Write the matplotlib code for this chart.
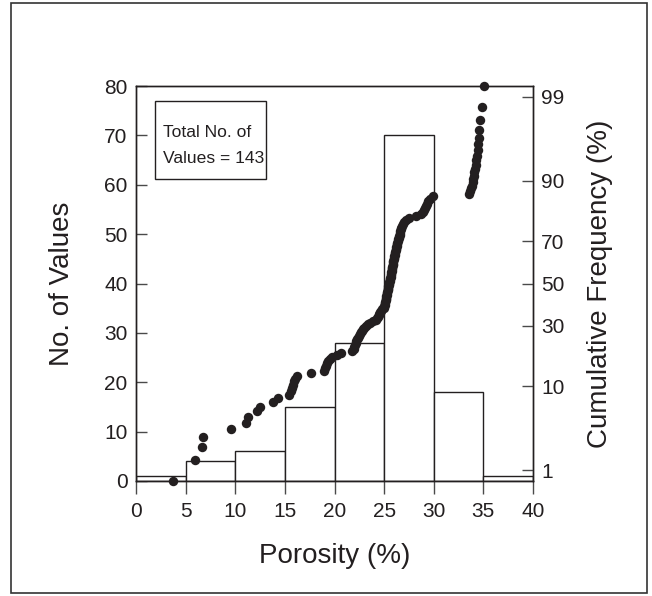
import numpy as np
import matplotlib
matplotlib.use("Agg")
import matplotlib.pyplot as plt
from matplotlib.patches import Rectangle
from statistics import NormalDist

plt.rcParams["font.family"] = ["Liberation Sans", "DejaVu Sans"]

# Histogram of porosity classes (%)
bin_edges = [0, 5, 10, 15, 20, 25, 30, 35, 40]
bin_counts = [1, 4, 6, 15, 28, 70, 18, 1]

# Individual porosity measurements, sorted ascending (%)
porosity_sorted = [
    3.7, 5.9, 6.7, 6.8, 9.6, 11.1, 11.3, 12.2, 12.5, 13.8,
    14.3, 15.4, 15.6, 15.7, 15.8, 15.9, 16.0, 16.2, 17.6, 18.9,
    19.0, 19.1, 19.2, 19.3, 19.5, 19.7, 20.3, 20.7, 21.8, 22.0,
    22.0, 22.1, 22.2, 22.2, 22.3, 22.4, 22.5, 22.6, 22.7, 22.8,
    22.9, 23.0, 23.2, 23.4, 23.6, 23.9, 24.2, 24.3, 24.4, 24.5,
    24.5, 24.6, 24.7, 24.8, 25.0, 25.0, 25.1, 25.1, 25.1, 25.2,
    25.2, 25.2, 25.2, 25.3, 25.3, 25.3, 25.4, 25.4, 25.4, 25.4,
    25.5, 25.5, 25.5, 25.6, 25.6, 25.6, 25.7, 25.7, 25.7, 25.7,
    25.8, 25.8, 25.8, 25.8, 25.9, 25.9, 25.9, 25.9, 26.0, 26.0,
    26.0, 26.1, 26.1, 26.1, 26.2, 26.2, 26.2, 26.3, 26.3, 26.3,
    26.4, 26.4, 26.5, 26.5, 26.6, 26.6, 26.6, 26.7, 26.7, 26.8,
    26.9, 27.0, 27.2, 27.5, 28.2, 28.7, 28.9, 29.0, 29.1, 29.2,
    29.3, 29.4, 29.6, 29.9, 33.6, 33.7, 33.8, 33.9, 34.0, 34.0,
    34.1, 34.1, 34.2, 34.3, 34.3, 34.4, 34.5, 34.5, 34.6, 34.6,
    34.7, 34.9, 35.1,
]

count_ticks = [0, 10, 20, 30, 40, 50, 60, 70, 80]
porosity_ticks = [0, 5, 10, 15, 20, 25, 30, 35, 40]
cum_ticks = [1, 10, 30, 50, 70, 90, 99]

n_values = len(porosity_sorted)
cum_freq = [100.0 * (i + 1) / (n_values + 1) for i in range(n_values)]

INK = "#231f20"
TICK = "#4a4a4a"

_nd = NormalDist()


def probit(p):
    p = np.clip(np.asarray(p, dtype=float) / 100.0, 1e-9, 1 - 1e-9)
    return np.vectorize(_nd.inv_cdf, otypes=[float])(p)


def inv_probit(z):
    z = np.asarray(z, dtype=float)
    return np.vectorize(_nd.cdf, otypes=[float])(z) * 100.0


fig = plt.figure(figsize=(6.52, 5.96), dpi=100)
W, H = 652, 596
ax = fig.add_axes([136 / W, 1 - 481 / H, (533 - 136) / W, (481 - 86) / H])

# histogram bars
ax.bar(bin_edges[:-1], bin_counts, width=5, align="edge",
       facecolor="white", edgecolor=INK, linewidth=1.0, zorder=2)

ax.set_xlim(0, 40)
ax.set_ylim(0, 80)
ax.set_xticks(porosity_ticks)
ax.set_yticks(count_ticks)
ax.tick_params(axis="y", direction="in", length=8, width=1, color=TICK,
               labelsize=15, labelcolor=INK, pad=6)
ax.tick_params(axis="x", direction="out", length=9, width=1, color=TICK,
               labelsize=15, labelcolor=INK, pad=6)
for s in ax.spines.values():
    s.set_color(INK)
    s.set_linewidth(1.0)

ax.set_xlabel("Porosity (%)", fontsize=20, color=INK)
ax.xaxis.set_label_coords(0.5, (481 - 556) / 395)
ax.xaxis.label.set_va("center")
ax.set_ylabel("No. of Values", fontsize=20, color=INK)
ax.yaxis.set_label_coords((62 - 136) / 397, 0.5)
ax.yaxis.label.set_va("center")

# note box with the sample size
ax.add_patch(Rectangle((1.9, 61.2), 11.2, 15.8, facecolor="white",
                       edgecolor=INK, linewidth=1.0, zorder=5))
ax.text(2.75, 70.6, "Total No. of", fontsize=12.6, color=INK,
        ha="left", va="center", zorder=6)
ax.text(2.75, 65.3, "Values = 143", fontsize=12.6, color=INK,
        ha="left", va="center", zorder=6)

# cumulative frequency on a probability scale
ax2 = ax.twinx()
ax2.set_yscale("function", functions=(probit, inv_probit))
ax2.plot(porosity_sorted, cum_freq, linestyle="none", marker="o",
         markersize=6.8, color=INK, markeredgewidth=0, clip_on=False, zorder=4)
ax2.set_ylim(100.0 / (n_values + 1), 100.0 * n_values / (n_values + 1))
ax2.set_yticks(cum_ticks)
ax2.set_yticklabels([str(t) for t in cum_ticks])
ax2.yaxis.set_minor_locator(matplotlib.ticker.NullLocator())
ax2.tick_params(axis="y", direction="in", length=8, width=1, color=TICK,
                labelsize=15, labelcolor=INK, pad=6)
for s in ax2.spines.values():
    s.set_color(INK)
    s.set_linewidth(1.0)
ax2.set_ylabel("Cumulative Frequency (%)", fontsize=20, color=INK)
ax2.yaxis.set_label_coords((600 - 136) / 397, 0.5)
ax2.yaxis.label.set_va("center")

# outer frame
fig.add_artist(Rectangle((11 / W, 1 - 593 / H), (647 - 11) / W, (593 - 3) / H,
                         transform=fig.transFigure, fill=False,
                         edgecolor="#333333", linewidth=1.2))

fig.savefig("out.png", dpi=100)
